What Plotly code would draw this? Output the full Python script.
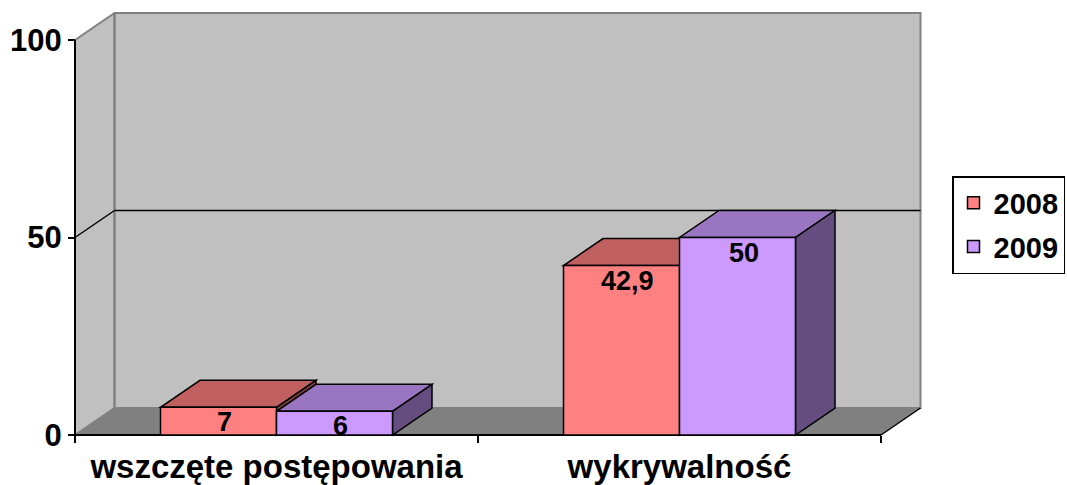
import plotly.graph_objects as go

# ---------------- data ----------------
categories = ["wszczęte postępowania", "wykrywalność"]
series_names = ["2008", "2009"]
values_2008 = [7, 42.9]
values_2009 = [6, 50]
y_tick_vals = [0, 50, 100]
y_tick_text = ["0", "50", "100"]
grid_values = [50]

series_values = [values_2008, values_2009]
front_colors = ["#FF8080", "#CC99FF"]
top_colors = ["#C06060", "#9A75C2"]
side_colors = ["#804040", "#664D80"]

# ---------------- geometry (pixel layout of the oblique projection) ----------------
W, H = 1067, 485
px_per_cat = 403.0
cat0_px = 276.5
y0_px = 435.0
px_per_unit = 3.95
x_range = [-cat0_px / px_per_cat, (W - cat0_px) / px_per_cat]
y_range = [-(H - y0_px) / px_per_unit, y0_px / px_per_unit]
dx = 39.5 / px_per_cat          # depth offset in category units
dy = 27.0 / px_per_unit         # depth offset in value units
bw = 116.0 / px_per_cat         # bar width in category units
offsets = [-bw, 0.0]
ymax = y_tick_vals[-1]
x_lo, x_hi = -0.5, len(categories) - 0.5

WALL = "#C0C0C0"
FLOOR = "#808080"
EDGE = "#808080"
FONT = "Liberation Sans, Arial, sans-serif"


def poly(pts):
    return "M " + " L ".join(f"{x},{y}" for x, y in pts) + " Z"


shapes = []
# left wall
shapes.append(dict(type="path", path=poly([(x_lo, 0), (x_lo, ymax), (x_lo + dx, ymax + dy), (x_lo + dx, dy)]),
                   fillcolor=WALL, line=dict(width=0), layer="below"))
# back wall
shapes.append(dict(type="rect", x0=x_lo + dx, x1=x_hi + dx, y0=dy, y1=ymax + dy,
                   fillcolor=WALL, line=dict(color=EDGE, width=2), layer="below"))
# floor
shapes.append(dict(type="path", path=poly([(x_lo, 0), (x_hi, 0), (x_hi + dx, dy), (x_lo + dx, dy)]),
                   fillcolor=FLOOR, line=dict(width=0), layer="below"))


def seg(xa, ya, xb, yb, color, width=1.5):
    shapes.append(dict(type="line", x0=xa, y0=ya, x1=xb, y1=yb,
                       line=dict(color=color, width=width), layer="below"))


# gray wall edges
seg(x_lo, ymax, x_lo + dx, ymax + dy, EDGE, 2)
seg(x_lo + dx, dy, x_lo + dx, ymax + dy, EDGE, 2)
seg(x_lo, 0, x_lo + dx, dy, EDGE, 2)
seg(x_lo + dx, dy, x_hi + dx, dy, EDGE, 2)
# gridlines on walls
for g in grid_values:
    seg(x_lo, g, x_lo + dx, g + dy, "black", 1.5)
    seg(x_lo + dx, g + dy, x_hi + dx, g + dy, "black", 1.5)
# black floor edges and value axis line
seg(x_lo, 0, x_hi, 0, "black", 2)
seg(x_hi, 0, x_hi + dx, dy, "black", 1.5)
seg(x_lo, 0, x_lo, ymax, "black", 2)

# 3D faces of bars (painter's order)
for i in range(len(categories)):
    for j, vals in enumerate(series_values):
        v = vals[i]
        xl = i + offsets[j]
        xr = xl + bw
        shapes.append(dict(type="path", path=poly([(xl, v), (xr, v), (xr + dx, v + dy), (xl + dx, v + dy)]),
                           fillcolor=top_colors[j], line=dict(color="black", width=1.5), layer="below"))
        shapes.append(dict(type="path", path=poly([(xr, 0), (xr, v), (xr + dx, v + dy), (xr + dx, dy)]),
                           fillcolor=side_colors[j], line=dict(color="black", width=1.5), layer="below"))

fig = go.Figure()
for j, vals in enumerate(series_values):
    fig.add_trace(go.Bar(
        x=categories, y=vals, name=series_names[j],
        width=bw, offset=offsets[j],
        marker=dict(color=front_colors[j], line=dict(color="black", width=1.5)),
        legendgroup=series_names[j], hoverinfo="skip",
    ))

annotations = []
for j, vals in enumerate(series_values):
    for i, v in enumerate(vals):
        annotations.append(dict(
            x=i + offsets[j] + bw / 2, y=v, xref="x", yref="y",
            text=f"{v:g}".replace(".", ","), showarrow=False,
            xanchor="center", yanchor="top", xshift=6, yshift=2,
            font=dict(family=FONT, size=27, color="black", weight="bold"),
        ))

fig.update_layout(
    width=W, height=H,
    margin=dict(l=0, r=0, t=0, b=0),
    paper_bgcolor="white", plot_bgcolor="white",
    barmode="overlay",
    shapes=shapes, annotations=annotations,
    showlegend=True,
    legend=dict(
        x=952 / W, y=1 - 176 / H, xanchor="left", yanchor="top",
        bgcolor="white", bordercolor="black", borderwidth=1.5,
        font=dict(family=FONT, size=29, color="black", weight="bold"),
        traceorder="grouped", tracegroupgap=3, entrywidth=84,
    ),
    xaxis=dict(
        type="category", categoryorder="array", categoryarray=categories,
        range=x_range, showgrid=False, zeroline=False, showline=False,
        ticks="outside", tickson="boundaries", ticklen=7, tickwidth=1.5, tickcolor="black",
        anchor="free", position=(H - y0_px) / H, ticklabelstandoff=9,
        tickfont=dict(family=FONT, size=33, color="black", weight="bold"),
        fixedrange=True,
    ),
    yaxis=dict(
        range=y_range, tickvals=y_tick_vals, ticktext=y_tick_text,
        showgrid=False, zeroline=False, showline=False,
        ticks="outside", ticklen=7, tickwidth=1.5, tickcolor="black",
        anchor="free", position=(cat0_px + x_lo * px_per_cat) / W,
        tickfont=dict(family=FONT, size=31, color="black", weight="bold"),
        fixedrange=True,
    ),
)

fig.write_html(
    "out.html",
    config={"displayModeBar": False},
    post_script="document.body.style.margin='0';document.body.style.overflow='hidden';",
)
